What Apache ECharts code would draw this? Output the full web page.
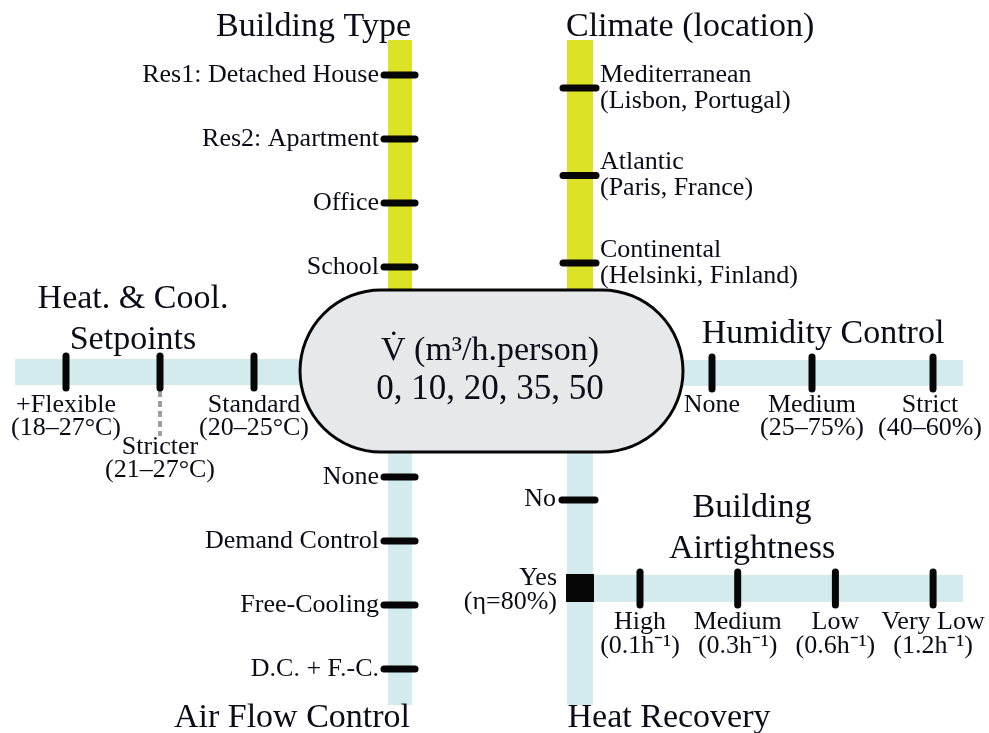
<!DOCTYPE html>
<html><head><meta charset="utf-8">
<script src="https://cdn.jsdelivr.net/npm/echarts@6/dist/echarts.min.js"></script>
<style>html,body{margin:0;padding:0;background:#fff}#c{width:989px;height:733px}</style>
</head><body><div id="c"></div>
<script>
// ---- Data (labels of each design-parameter branch) ----
const centerTitle = 'V\u0307 (m\u00b3/h.person)';
const flowRates = [0, 10, 20, 35, 50];
const buildingTypes = ['Res1: Detached House', 'Res2: Apartment', 'Office', 'School'];
const climates = [['Mediterranean', '(Lisbon, Portugal)'], ['Atlantic', '(Paris, France)'], ['Continental', '(Helsinki, Finland)']];
const setpoints = [['+Flexible', '(18\u201327\u00b0C)'], ['Stricter', '(21\u201327\u00b0C)'], ['Standard', '(20\u201325\u00b0C)']];
const humidity = [['None'], ['Medium', '(25\u201375%)'], ['Strict', '(40\u201360%)']];
const airFlow = ['None', 'Demand Control', 'Free-Cooling', 'D.C. + F.-C.'];
const heatRecovery = [['No'], ['Yes', '(\u03b7=80%)']];
const airtightness = [['High', '(0.1h\u207b\u00b9)'], ['Medium', '(0.3h\u207b\u00b9)'], ['Low', '(0.6h\u207b\u00b9)'], ['Very Low', '(1.2h\u207b\u00b9)']];
const branchTitles = {
  building: 'Building Type', climate: 'Climate (location)', setpoints: ['Heat. & Cool.', 'Setpoints'],
  humidity: 'Humidity Control', airFlow: 'Air Flow Control', heatRecovery: 'Heat Recovery',
  airtightness: ['Building', 'Airtightness']
};

// ---- Layout / style ----
const FONT = '"Liberation Serif", "Times New Roman", serif';
const YEL = '#dce225', CYAN = '#d3ebec', INK = '#060606', TXT = '#0c0c18';
const TS = 34, LS = 26, LH = 24;
const els = [];
const bar = (x1, y1, x2, y2, c) => els.push({k: 'rect', x1, y1, x2, y2, c});
const tick = (x1, y1, x2, y2) => els.push({k: 'line', x1, y1, x2, y2});
const txt = (x, y, t, al, size) => els.push({k: 'text', x, y, t, al, size: size || LS});

// bars
bar(388, 40, 412, 300, YEL);
bar(567, 40, 593, 300, YEL);
bar(15, 359, 310, 385, CYAN);
bar(670, 360, 963, 386, CYAN);
bar(388, 440, 412, 705, CYAN);
bar(567, 440, 593, 705, CYAN);
bar(593, 575, 963, 602, CYAN);
// center stadium
els.push({k: 'rect', x1: 300, y1: 290, x2: 683, y2: 452, c: '#e6e8ea', s: INK, lw: 3, r: 81});
txt(490, 351, centerTitle, 'center', 34);
txt(490, 390, flowRates.join(', '), 'center', 35);

// Building type
txt(411, 27, branchTitles.building, 'right', TS);
buildingTypes.forEach((t, i) => { const y = 75 + i * 64; tick(384, y, 415, y); txt(379, y, t, 'right'); });
// Climate
txt(566, 27, branchTitles.climate, 'left', TS);
climates.forEach((t, i) => { const y = 88 + i * 87.5; tick(563, y, 596, y); txt(600, y - 13, t[0], 'left'); txt(600, y + 13, t[1], 'left'); });
// Setpoints
txt(133, 299, branchTitles.setpoints[0], 'center', TS);
txt(133, 340, branchTitles.setpoints[1], 'center', TS);
els.push({k: 'dash', x1: 160, y1: 391, x2: 160, y2: 436});
setpoints.forEach((t, i) => {
  const x = 66 + i * 94; tick(x, 356, x, 388);
  const y0 = i === 1 ? 447 : 405;
  txt(x, y0, t[0], 'center'); txt(x, y0 + LH - 1, t[1], 'center');
});
// Humidity
txt(823, 334, branchTitles.humidity, 'center', TS);
const humX = [712, 812, 933];
humidity.forEach((t, i) => { const x = humX[i]; tick(x, 357, x, 389); t.forEach((s, j) => txt(x - (i === 2 ? 3 : 0), 405 + j * (LH - 1), s, 'center')); });
// Air flow
txt(292, 718, branchTitles.airFlow, 'center', TS);
airFlow.forEach((t, i) => { const y = 477 + i * 64; tick(384, y, 415, y); txt(379, y, t, 'right'); });
// Heat recovery
txt(669, 718, branchTitles.heatRecovery, 'center', TS);
tick(562, 500, 595, 500); txt(556, 499, heatRecovery[0][0], 'right');
els.push({k: 'rect', x1: 566, y1: 574, x2: 594, y2: 602, c: INK});
txt(557, 578, heatRecovery[1][0], 'right'); txt(557, 602, heatRecovery[1][1], 'right');
// Airtightness
txt(752, 508, branchTitles.airtightness[0], 'center', TS);
txt(752, 549, branchTitles.airtightness[1], 'center', TS);
airtightness.forEach((t, i) => { const x = 640 + i * 97.7; tick(x, 572, x, 605); txt(x, 622, t[0], 'center'); txt(x, 646, t[1], 'center'); });

function renderItem(params, api) {
  const e = els[params.dataIndex];
  const p1 = api.coord([e.x1 !== undefined ? e.x1 : e.x, e.y1 !== undefined ? e.y1 : e.y]);
  if (e.k === 'rect') {
    const p2 = api.coord([e.x2, e.y2]);
    return {type: 'rect', shape: {x: p1[0], y: p1[1], width: p2[0] - p1[0], height: p2[1] - p1[1], r: e.r || 0},
      style: {fill: e.c, stroke: e.s || null, lineWidth: e.lw || 0}};
  }
  if (e.k === 'line' || e.k === 'dash') {
    const p2 = api.coord([e.x2, e.y2]);
    return {type: 'line', shape: {x1: p1[0], y1: p1[1], x2: p2[0], y2: p2[1]},
      style: e.k === 'line' ? {stroke: INK, lineWidth: 7, lineCap: 'round'} : {stroke: '#a0a0a0', lineWidth: 4, lineDash: [6, 4]}};
  }
  return {type: 'text', x: p1[0], y: p1[1], style: {text: e.t, fill: TXT, font: e.size + 'px ' + FONT,
    align: e.al, textAlign: e.al, verticalAlign: 'middle', textVerticalAlign: 'middle'}};
}

const chart = echarts.init(document.getElementById('c'), null, {renderer: 'canvas'});
chart.setOption({
  animation: false,
  grid: {left: 0, right: 0, top: 0, bottom: 0},
  xAxis: {type: 'value', min: 0, max: 989, show: false},
  yAxis: {type: 'value', min: 0, max: 733, inverse: true, show: false},
  series: [{type: 'custom', renderItem, clip: false, data: els.map((e, i) => [i, 0])}]
});
</script></body></html>
